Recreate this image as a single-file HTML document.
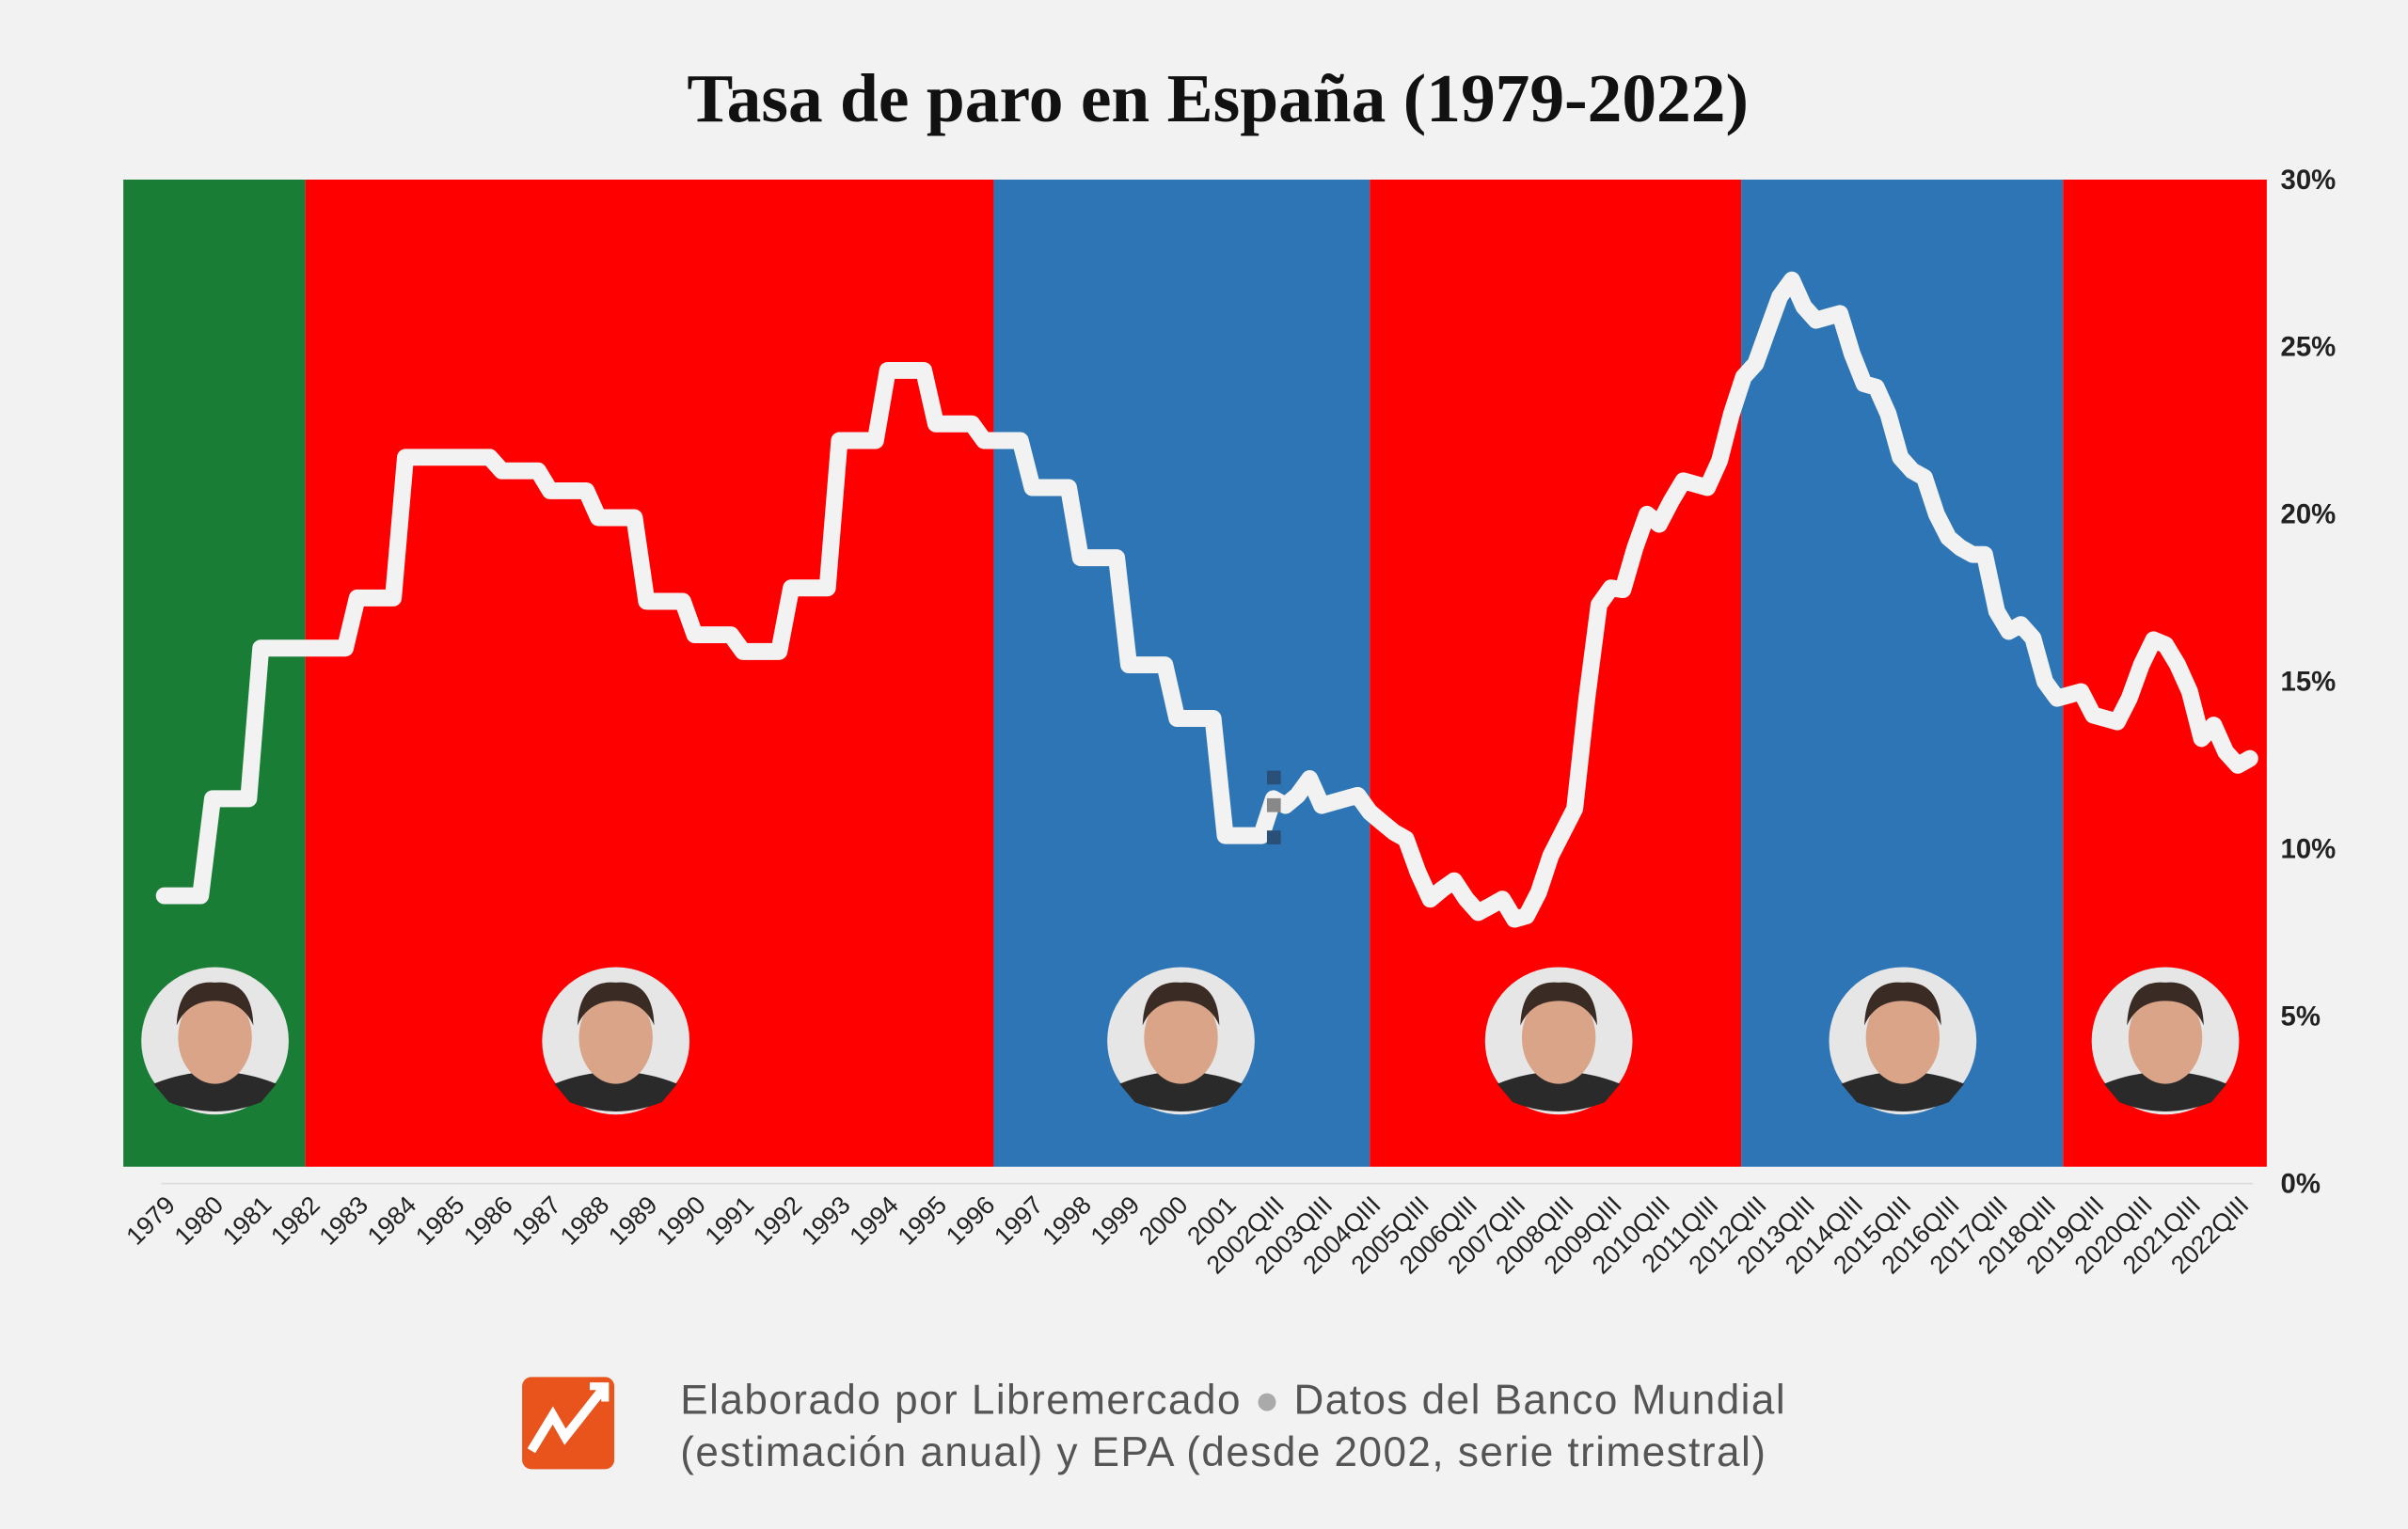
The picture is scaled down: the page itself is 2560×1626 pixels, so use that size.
<!DOCTYPE html>
<html><head><meta charset="utf-8"><style>
html,body{margin:0;padding:0;background:#f2f2f2;}
svg{display:block;}
</style></head><body>
<svg id="chart" width="2560" height="1626" viewBox="0 0 1568 996" preserveAspectRatio="none" xmlns="http://www.w3.org/2000/svg">
<rect x="0" y="0" width="1568" height="996" fill="#f2f2f2"/>
<text x="793" y="79" text-anchor="middle" font-family="'Liberation Serif',serif" font-weight="bold" font-size="45" fill="#111">Tasa de paro en España (1979-2022)</text>
<g id="bands"></g>
<line x1="105" y1="771" x2="1467" y2="771" stroke="#dcdcdc" stroke-width="1"/>
<g id="yticks"></g>
<g id="xticks"></g>
<path id="line" fill="none" stroke="#f2f2f2" stroke-width="11" stroke-linejoin="round" stroke-linecap="round"/>
<g>
<rect x="825" y="502" width="9" height="9" fill="#2a5078"/>
<rect x="825" y="520" width="9" height="9" fill="#888"/>
<rect x="825" y="541" width="9" height="9" fill="#2a5078"/>
</g>
<g id="portraits"></g>
<g>
<rect x="340" y="897" width="60" height="60" rx="6" fill="#e8541b"/>
<polyline points="346,945 360,922 368,936 394,903" fill="none" stroke="#fff" stroke-width="6" stroke-linejoin="miter"/>
<polyline points="384,903 394,903 394,913" fill="none" stroke="#fff" stroke-width="5"/>
<text x="443" y="921" font-family="'Liberation Sans',sans-serif" font-size="27" letter-spacing="0.9" fill="#555">Elaborado por Libremercado <tspan fill="#aaa">●</tspan> Datos del Banco Mundial</text>
<text x="443" y="955" font-family="'Liberation Sans',sans-serif" font-size="27" letter-spacing="0.9" fill="#555">(estimación anual) y EPA (desde 2002, serie trimestral)</text>
</g>
</svg>
<script>
const annualYears = [1979,1980,1981,1982,1983,1984,1985,1986,1987,1988,1989,1990,1991,1992,1993,1994,1995,1996,1997,1998,1999,2000,2001];
const annualValues = [8.6,11.5,16.0,16.0,17.5,21.7,21.7,21.3,20.7,19.9,17.4,16.4,15.9,17.8,22.2,24.3,22.7,22.2,20.8,18.7,15.5,13.9,10.4];
const quarterlyValues = [11.5,11.3,11.6,12.1,11.3,11.4,11.5,11.6,11.1,10.8,10.5,10.3,9.3,8.5,8.8,9.05,8.5,8.1,8.3,8.5,7.9,8.0,8.7,9.8,10.5,11.2,14.5,17.3,17.8,17.75,19.0,20.0,19.7,20.4,21.0,20.9,20.8,21.6,23.0,24.1,24.5,25.5,26.5,27.0,26.2,25.8,25.9,26.0,24.8,23.9,23.8,23.0,21.7,21.3,21.1,20.0,19.3,19.0,18.8,18.8,17.1,16.5,16.7,16.3,15.0,14.5,14.6,14.7,14.0,13.9,13.8,14.5,15.5,16.25,16.1,15.5,14.7,13.3,13.7,12.9,12.5,12.7];
const yTicks = [0,5,10,15,20,25,30];
const bandStarts = [-3.4,11.7,68.8,100,130.8,157.5];
const bandEnds = [11.7,68.8,100,130.8,157.5,174.4];
const bandColors = ["#1a7d36","#ff0000","#2e75b6","#ff0000","#2e75b6","#ff0000"];
const bandNames = ["suarez","gonzalez","aznar","zapatero","rajoy","sanchez"];

const NS="http://www.w3.org/2000/svg";
function x(i){return 107+7.85*i;}
function y(v){return 771-v*654/30;}
function mk(tag,attrs,parent){const e=document.createElementNS(NS,tag);for(const k in attrs)e.setAttribute(k,attrs[k]);parent.appendChild(e);return e;}

const bands=document.getElementById('bands');
bandStarts.forEach((s,k)=>{
  const r=mk('rect',{x:x(s),y:117,width:x(bandEnds[k])-x(s),height:643,fill:bandColors[k]},bands);
  
  
});

const yt=document.getElementById('yticks');
yTicks.forEach(v=>{
  const t=mk('text',{x:1485,y:y(v)+6,'font-family':"'Liberation Sans',sans-serif",'font-size':18,'font-weight':'bold',fill:'#222'},yt);
  t.textContent=v+'%';
  
  
});

const labels=[]; const pts=[];
annualYears.forEach((yr,k)=>{
  labels.push([4*k,String(yr)]);
  for(let q=0;q<4;q++)pts.push([4*k+q,annualValues[k]]);
});
const qStart=annualYears.length*4;
quarterlyValues.forEach((v,k)=>{
  pts.push([qStart+k,v]);
  if(k%4===0){labels.push([qStart+k,(2002+k/4)+'QIII']);}
});
const xt=document.getElementById('xticks');
labels.forEach(([i,l])=>{
  const t=mk('text',{x:x(i)+8,y:786,'text-anchor':'end','font-family':"'Liberation Sans',sans-serif",'font-size':16.5,fill:'#222',transform:`rotate(-45 ${x(i)+8} 786)`},xt);
  t.textContent=l;
  
  
});
document.getElementById('line').setAttribute('d',pts.map((p,k)=>(k?'L':'M')+x(p[0]).toFixed(1)+','+y(p[1]).toFixed(1)).join(''));

const pc=[140,401,769,1015,1239,1410];
const pg=document.getElementById('portraits');
pc.forEach((cx,k)=>{
  const g=mk('g',{},pg);
  
  
  mk('circle',{cx:cx,cy:678,r:48,fill:'#e6e6e6'},g);
  mk('path',{d:`M${cx-40},706 Q${cx},690 ${cx+40},706 L${cx+30},718 Q${cx},730 ${cx-30},718Z`,fill:'#2a2a2a'},g);
  mk('ellipse',{cx:cx,cy:676,rx:24,ry:30,fill:'#d9a488'},g);
  mk('path',{d:`M${cx-25},668 Q${cx-24},638 ${cx},640 Q${cx+24},638 ${cx+25},668 Q${cx+18},652 ${cx},652 Q${cx-18},652 ${cx-25},668Z`,fill:'#3a2c25'},g);
});
</script>
</body></html>
